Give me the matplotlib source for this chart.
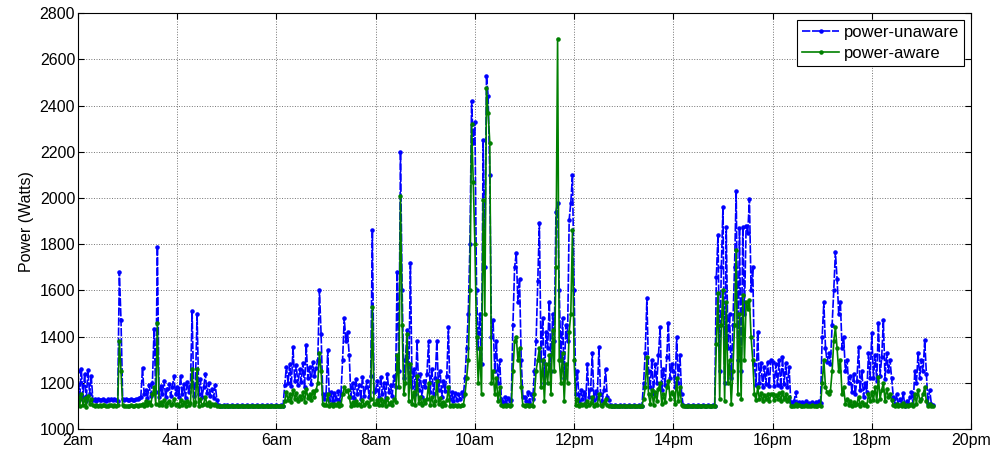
import numpy as np
import matplotlib
matplotlib.use("Agg")
import matplotlib.pyplot as plt

plt.rcParams['font.family'] = ['Liberation Sans', 'DejaVu Sans']

# power readings, one row per hour starting at 2am, one sample every 2 minutes
start_hours = [2, 3, 4, 5, 6, 7, 8, 9, 10, 11, 12, 13, 14, 15, 16, 17, 18, 19]

power_unaware = [
    [1250, 1130, 1260, 1140, 1240, 1120, 1255, 1150, 1230, 1125, 1128, 1122, 1130, 1126, 1124,
     1129, 1127, 1123, 1131, 1125, 1128, 1124, 1130, 1126, 1122, 1680, 1470, 1130, 1126, 1128],
    [1126, 1124, 1128, 1125, 1127, 1130, 1128, 1135, 1140, 1265, 1150, 1170, 1135, 1190, 1145,
     1200, 1435, 1160, 1790, 1140, 1185, 1150, 1210, 1140, 1175, 1195, 1145, 1180, 1230, 1150],
    [1180, 1140, 1230, 1150, 1195, 1135, 1205, 1160, 1185, 1510, 1145, 1190, 1500, 1150, 1215,
     1140, 1180, 1240, 1155, 1200, 1145, 1175, 1135, 1190, 1125, 1102, 1101, 1100, 1102, 1101],
    [1102, 1101, 1100, 1102, 1101, 1100, 1102, 1101, 1100, 1102, 1101, 1100, 1102, 1101, 1100,
     1102, 1101, 1100, 1102, 1101, 1100, 1102, 1101, 1100, 1102, 1101, 1100, 1102, 1101, 1100],
    [1102, 1101, 1100, 1102, 1101, 1190, 1270, 1200, 1280, 1185, 1355, 1210, 1275, 1190, 1260,
     1205, 1285, 1180, 1365, 1220, 1270, 1195, 1290, 1230, 1265, 1300, 1600, 1410, 1150, 1130],
    [1150, 1340, 1125, 1160, 1120, 1155, 1130, 1165, 1122, 1150, 1300, 1480, 1380, 1420, 1320,
     1140, 1200, 1135, 1215, 1150, 1190, 1130, 1225, 1145, 1180, 1210, 1140, 1230, 1860, 1160],
    [1170, 1210, 1140, 1225, 1150, 1200, 1135, 1240, 1160, 1190, 1145, 1230, 1180, 1680, 1250,
     2200, 1600, 1220, 1300, 1430, 1200, 1720, 1180, 1260, 1150, 1380, 1170, 1240, 1140, 1210],
    [1180, 1240, 1380, 1160, 1260, 1150, 1220, 1380, 1170, 1250, 1140, 1210, 1165, 1230, 1440,
     1130, 1160, 1120, 1155, 1125, 1150, 1130, 1160, 1145, 1220, 1350, 1500, 1800, 2420, 2240],
    [2330, 1600, 1350, 1500, 1280, 2250, 1700, 2530, 2440, 2100, 1400, 1470, 1250, 1380, 1200,
     1300, 1130, 1115, 1140, 1110, 1135, 1120, 1125, 1450, 1700, 1760, 1550, 1650, 1300, 1140],
    [1140, 1120, 1160, 1115, 1150, 1130, 1250, 1380, 1640, 1890, 1300, 1480, 1200, 1420, 1350,
     1550, 1250, 1500, 1380, 1940, 1980, 1600, 1300, 1480, 1220, 1450, 1380, 1905, 1980, 2100],
    [1600, 1150, 1250, 1120, 1170, 1130, 1160, 1115, 1280, 1140, 1175, 1330, 1125, 1165, 1135,
     1355, 1150, 1120, 1170, 1260, 1140, 1125, 1102, 1101, 1100, 1102, 1101, 1100, 1102, 1101],
    [1102, 1101, 1100, 1102, 1101, 1100, 1102, 1101, 1100, 1102, 1101, 1100, 1200, 1330, 1565,
     1250, 1180, 1300, 1150, 1280, 1200, 1320, 1440, 1170, 1260, 1190, 1310, 1460, 1220, 1280],
    [1250, 1180, 1400, 1200, 1320, 1150, 1102, 1101, 1100, 1102, 1101, 1100, 1102, 1101, 1100,
     1102, 1101, 1100, 1102, 1101, 1100, 1102, 1101, 1100, 1102, 1101, 1660, 1840, 1250, 1700],
    [1960, 1200, 1875, 1350, 1500, 1220, 1450, 1700, 2030, 1300, 1870, 1250, 1875, 1500, 1880,
     1850, 1996, 1600, 1700, 1280, 1190, 1420, 1200, 1285, 1180, 1270, 1195, 1290, 1185, 1300],
    [1290, 1185, 1280, 1190, 1300, 1180, 1310, 1195, 1285, 1180, 1270, 1115, 1108, 1120, 1160,
     1110, 1118, 1105, 1115, 1110, 1120, 1108, 1112, 1105, 1118, 1110, 1115, 1108, 1120, 1112],
    [1400, 1550, 1350, 1290, 1330, 1280, 1450, 1600, 1766, 1650, 1500, 1550, 1350, 1400, 1250,
     1300, 1200, 1230, 1160, 1240, 1150, 1210, 1355, 1170, 1250, 1140, 1200, 1160, 1330, 1220],
    [1416, 1220, 1320, 1210, 1460, 1230, 1310, 1470, 1215, 1330, 1250, 1300, 1220, 1140, 1110,
     1150, 1105, 1130, 1110, 1155, 1100, 1120, 1108, 1140, 1160, 1105, 1250, 1200, 1330, 1220],
    [1300, 1250, 1385, 1240, 1110, 1170, 1110, 1105],
]

power_aware = [
    [1140, 1100, 1150, 1105, 1135, 1095, 1145, 1110, 1130, 1102, 1100, 1104, 1101, 1103, 1100,
     1102, 1104, 1101, 1100, 1103, 1102, 1100, 1104, 1101, 1102, 1380, 1250, 1102, 1100, 1101],
    [1101, 1100, 1102, 1100, 1101, 1103, 1100, 1102, 1104, 1110, 1100, 1120, 1102, 1115, 1104,
     1150, 1180, 1110, 1460, 1105, 1118, 1102, 1125, 1100, 1112, 1120, 1103, 1108, 1130, 1102],
    [1110, 1100, 1125, 1102, 1115, 1100, 1120, 1104, 1112, 1260, 1102, 1115, 1260, 1100, 1130,
     1102, 1110, 1140, 1104, 1118, 1100, 1110, 1102, 1108, 1100, 1100, 1101, 1100, 1100, 1101],
    [1100, 1100, 1101, 1100, 1100, 1101, 1100, 1100, 1101, 1100, 1100, 1101, 1100, 1100, 1101,
     1100, 1100, 1101, 1100, 1100, 1101, 1100, 1100, 1101, 1100, 1100, 1101, 1100, 1100, 1101],
    [1100, 1100, 1101, 1100, 1100, 1120, 1160, 1125, 1150, 1115, 1170, 1130, 1155, 1120, 1145,
     1128, 1160, 1118, 1175, 1135, 1150, 1125, 1165, 1140, 1170, 1200, 1330, 1250, 1110, 1105],
    [1105, 1150, 1100, 1110, 1100, 1108, 1102, 1112, 1100, 1105, 1150, 1180, 1165, 1170, 1140,
     1100, 1115, 1102, 1120, 1104, 1110, 1100, 1125, 1103, 1112, 1118, 1101, 1130, 1530, 1108],
    [1110, 1125, 1102, 1130, 1105, 1120, 1100, 1135, 1108, 1118, 1103, 1128, 1115, 1320, 1180,
     2010, 1450, 1150, 1200, 1410, 1120, 1280, 1110, 1160, 1105, 1230, 1112, 1140, 1102, 1125],
    [1112, 1130, 1200, 1104, 1140, 1102, 1120, 1210, 1108, 1135, 1100, 1118, 1106, 1125, 1180,
     1100, 1106, 1100, 1105, 1101, 1104, 1100, 1106, 1103, 1150, 1220, 1300, 1600, 2320, 2070],
    [1800, 1400, 1200, 1350, 1150, 1990, 1500, 2475, 2370, 2240, 1200, 1250, 1150, 1220, 1120,
     1180, 1102, 1100, 1104, 1100, 1103, 1100, 1102, 1250, 1380, 1400, 1300, 1350, 1180, 1102],
    [1100, 1102, 1105, 1100, 1104, 1101, 1150, 1250, 1300, 1350, 1180, 1300, 1120, 1280, 1200,
     1320, 1150, 1430, 1250, 1700, 2690, 1300, 1200, 1330, 1120, 1280, 1200, 1420, 1500, 1860],
    [1300, 1105, 1130, 1100, 1110, 1102, 1108, 1100, 1120, 1104, 1112, 1140, 1100, 1110, 1102,
     1150, 1106, 1100, 1112, 1130, 1104, 1100, 1100, 1100, 1101, 1100, 1100, 1101, 1100, 1100],
    [1100, 1100, 1101, 1100, 1100, 1101, 1100, 1100, 1101, 1100, 1100, 1101, 1130, 1180, 1310,
     1150, 1110, 1170, 1105, 1160, 1120, 1175, 1200, 1108, 1150, 1115, 1180, 1210, 1130, 1160],
    [1150, 1110, 1220, 1120, 1180, 1102, 1100, 1100, 1101, 1100, 1100, 1101, 1100, 1100, 1101,
     1100, 1100, 1101, 1100, 1100, 1101, 1100, 1100, 1101, 1100, 1100, 1370, 1590, 1130, 1450],
    [1600, 1120, 1550, 1200, 1300, 1110, 1250, 1450, 1775, 1150, 1500, 1130, 1580, 1300, 1550,
     1520, 1560, 1400, 1300, 1150, 1125, 1180, 1130, 1155, 1120, 1148, 1128, 1152, 1122, 1150],
    [1150, 1125, 1148, 1130, 1155, 1122, 1160, 1128, 1150, 1120, 1140, 1100, 1101, 1100, 1110,
     1100, 1102, 1100, 1101, 1100, 1102, 1100, 1101, 1100, 1102, 1100, 1101, 1100, 1102, 1100],
    [1200, 1300, 1180, 1160, 1150, 1165, 1250, 1380, 1440, 1350, 1250, 1300, 1150, 1180, 1110,
     1130, 1105, 1120, 1100, 1115, 1102, 1110, 1140, 1100, 1118, 1102, 1110, 1100, 1150, 1120],
    [1160, 1125, 1180, 1120, 1225, 1130, 1170, 1200, 1122, 1175, 1140, 1150, 1125, 1105, 1100,
     1110, 1100, 1104, 1100, 1112, 1100, 1102, 1100, 1106, 1110, 1100, 1150, 1110, 1170, 1120],
    [1130, 1150, 1180, 1120, 1100, 1110, 1100, 1100],
]

x_ticks = [2, 4, 6, 8, 10, 12, 14, 16, 18, 20]
x_tick_labels = ['2am', '4am', '6am', '8am', '10am', '12pm', '14pm', '16pm', '18pm', '20pm']
y_ticks = [1000, 1200, 1400, 1600, 1800, 2000, 2200, 2400, 2600, 2800]


def flatten(rows):
    t, v = [], []
    for h, row in zip(start_hours, rows):
        t.extend(h + np.arange(len(row)) / 30.0)
        v.extend(row)
    return np.array(t), np.array(v)


t_un, v_un = flatten(power_unaware)
t_aw, v_aw = flatten(power_aware)

fig = plt.figure(figsize=(9.95, 4.54), dpi=100, facecolor='white')
ax = fig.add_axes([0.0784, 0.055, 0.8975, 0.916])

ax.plot(t_un, v_un, '--', color='#0000ff', lw=1.2, dashes=(5, 1), marker='.', ms=4.5,
        label='power-unaware')
ax.plot(t_aw, v_aw, '-', color='#008000', lw=1.2, marker='.', ms=4.5, label='power-aware')

ax.set_xlim(2, 20)
ax.set_ylim(1000, 2800)
ax.set_xticks(x_ticks)
ax.set_xticklabels(x_tick_labels)
ax.set_yticks(y_ticks)
ax.tick_params(direction='in', top=True, right=True, labelsize=11.5, length=4)
ax.tick_params(axis='x', pad=3)
ax.tick_params(axis='y', pad=2)
ax.grid(True, linestyle=':', color='black', lw=0.7, alpha=0.55)
ax.set_ylabel('Power (Watts)', fontsize=11.5)

leg = ax.legend(loc='upper right', fontsize=12, fancybox=False, framealpha=1,
                edgecolor='black', handlelength=2.2, borderpad=0.3, labelspacing=0.35,
                handletextpad=0.3, borderaxespad=0.4)
leg.get_frame().set_linewidth(0.8)

plt.savefig('out.png', dpi=100)
